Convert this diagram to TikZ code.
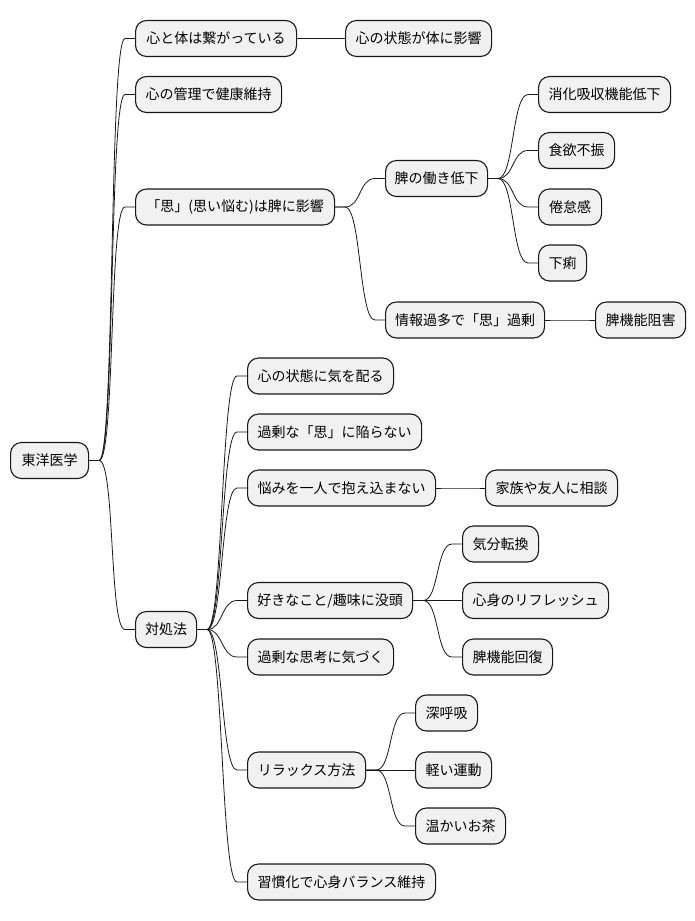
\documentclass[tikz,border=0pt]{standalone}
\usepackage{fontspec}
\setmainfont{Noto Sans CJK JP}
\usetikzlibrary{calc}
\definecolor{boxfill}{HTML}{F1F1F1}
\definecolor{boxline}{HTML}{181818}
\newcommand\mmlink[2]{\draw[link] (#1.east) -- ++(10pt,0) .. controls +(16pt,0) and +(-16pt,0) .. ([xshift=-10pt]#2.west) -- (#2.west);}
\begin{document}
\begin{tikzpicture}[x=1pt,y=-1pt,
  box/.style={draw=boxline, line width=1.1pt, fill=boxfill, rounded corners=11pt,
    minimum height=36pt, inner xsep=0pt, inner ysep=0pt, anchor=west,
    font=\fontsize{14pt}{16pt}\selectfont},
  link/.style={line width=0.8pt, draw=boxline}]
\useasboundingbox (0,0) rectangle (695,921);
\node[box, minimum width=78pt] (root) at (10,460.5) {東洋医学};
\node[box, minimum width=161pt] (a1) at (135,38.5) {心と体は繋がっている};
\node[box, minimum width=146pt] (a2) at (135,94.5) {心の管理で健康維持};
\node[box, minimum width=199pt] (a3) at (135,207) {「思」(思い悩む)は脾に影響};
\node[box, minimum width=61pt] (a4) at (135,629.5) {対処法};
\node[box, minimum width=146pt] (b1) at (345,38.5) {心の状態が体に影響};
\node[box, minimum width=102pt] (b2) at (385,178.5) {脾の働き低下};
\node[box, minimum width=159pt] (b3) at (385,320) {情報過多で「思」過剰};
\node[box, minimum width=132pt] (c1) at (538,94.5) {消化吸収機能低下};
\node[box, minimum width=76pt] (c2) at (538,150.5) {食欲不振};
\node[box, minimum width=63pt] (c3) at (538,207) {倦怠感};
\node[box, minimum width=48pt] (c4) at (538,263) {下痢};
\node[box, minimum width=90pt] (c5) at (595,320) {脾機能阻害};
\node[box, minimum width=146pt] (d1) at (247,376) {心の状態に気を配る};
\node[box, minimum width=174pt] (d2) at (247,432) {過剰な「思」に陥らない};
\node[box, minimum width=188pt] (d3) at (247,488) {悩みを一人で抱え込まない};
\node[box, minimum width=165pt] (d4) at (247,600.5) {好きなこと/趣味に没頭};
\node[box, minimum width=146pt] (d5) at (247,657) {過剰な思考に気づく};
\node[box, minimum width=118pt] (d6) at (247,770) {リラックス方法};
\node[box, minimum width=188pt] (d7) at (247,882) {習慣化で心身バランス維持};
\node[box, minimum width=132pt] (e1) at (485,488) {家族や友人に相談};
\node[box, minimum width=76pt] (e2) at (462,544) {気分転換};
\node[box, minimum width=146pt] (e3) at (462,600.5) {心身のリフレッシュ};
\node[box, minimum width=90pt] (e4) at (462,657) {脾機能回復};
\node[box, minimum width=62pt] (f1) at (415,713) {深呼吸};
\node[box, minimum width=76pt] (f2) at (415,770) {軽い運動};
\node[box, minimum width=90pt] (f3) at (415,826) {温かいお茶};
\foreach \c in {a1,a2,a3,a4} {\mmlink{root}{\c}}
\mmlink{a1}{b1}
\mmlink{a3}{b2}
\mmlink{a3}{b3}
\foreach \c in {c1,c2,c3,c4} {\mmlink{b2}{\c}}
\mmlink{b3}{c5}
\foreach \c in {d1,d2,d3,d4,d5,d6,d7} {\mmlink{a4}{\c}}
\mmlink{d3}{e1}
\foreach \c in {e2,e3,e4} {\mmlink{d4}{\c}}
\foreach \c in {f1,f2,f3} {\mmlink{d6}{\c}}
\end{tikzpicture}
\end{document}
